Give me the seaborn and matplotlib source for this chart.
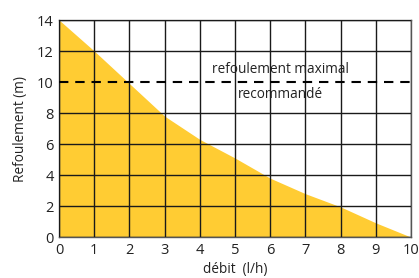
import matplotlib
matplotlib.use("Agg")
import matplotlib.pyplot as plt
import seaborn as sns
import pandas as pd

# courbe de refoulement
debit = [0, 1, 2, 3, 4, 5, 6, 7, 8, 9, 10]
refoulement = [14, 12, 9.9, 7.8, 6.3, 5.1, 3.8, 2.8, 1.95, 0.92, 0]
refoulement_max = 10
x_ticks = [0, 1, 2, 3, 4, 5, 6, 7, 8, 9, 10]
y_ticks = [0, 2, 4, 6, 8, 10, 12, 14]

df = pd.DataFrame({"debit": debit, "refoulement": refoulement})

sns.set_style("white")
plt.rcParams['font.family'] = ['Open Sans', 'DejaVu Sans']

fig = plt.figure(figsize=(4.19, 2.78), dpi=100)
ax = fig.add_axes([0.141, 0.147, 0.840, 0.781])

sns.lineplot(data=df, x="debit", y="refoulement", ax=ax, color="#FFCC33", linewidth=0)
ax.fill_between(df["debit"], df["refoulement"], 0, color="#FFCC33", linewidth=0, zorder=1)

ax.set_xlim(0, 10)
ax.set_ylim(0, 14)
ax.set_xticks(x_ticks)
ax.set_yticks(y_ticks)
ax.grid(True, color="#1a1a1a", linewidth=1.0, zorder=2)
ax.set_axisbelow(False)
# pas de ligne pleine a 10 m, remplacee par le tiret
for val, gl in zip(y_ticks, ax.yaxis.get_gridlines()):
    if val == refoulement_max:
        gl.set_visible(False)
for s in ax.spines.values():
    s.set_color("#555555")
    s.set_linewidth(1.0)

ax.axhline(refoulement_max, color="black", linestyle=(0, (4.5, 3.3)), linewidth=1.5, zorder=3)
ax.text(6.3, refoulement_max + 0.3, "refoulement maximal", ha="center", va="bottom", fontsize=9.8, color="#222222", zorder=4)
ax.text(6.3, refoulement_max - 0.35, "recommandé", ha="center", va="top", fontsize=9.8, color="#222222", zorder=4)

ax.tick_params(axis="both", length=0, labelsize=10.5, colors="#222222", pad=4)
ax.set_xlabel("débit  (l/h)", fontsize=9.8, color="#222222", labelpad=3)
ax.set_ylabel("Refoulement (m)", fontsize=9.8, color="#222222", labelpad=6)

fig.savefig("out.png", dpi=100)
